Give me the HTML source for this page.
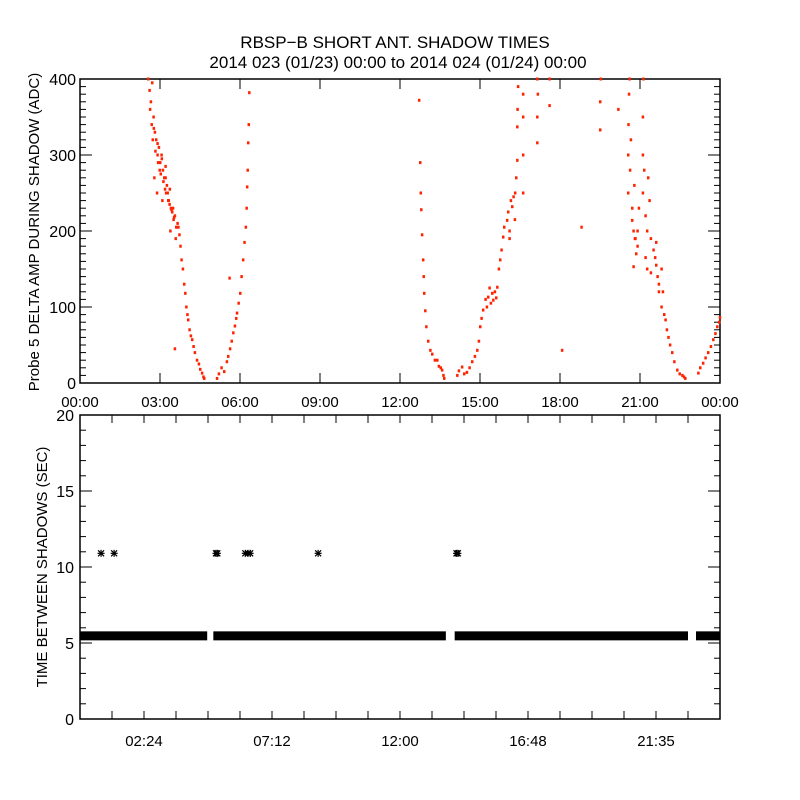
<!DOCTYPE html>
<html><head><meta charset="utf-8"><style>
html,body{margin:0;padding:0;background:#fff;}
svg{display:block;font-family:"Liberation Sans",sans-serif;}
</style></head><body>
<svg id="chart" width="800" height="800" viewBox="0 0 800 800" xmlns="http://www.w3.org/2000/svg">
<rect width="800" height="800" fill="#fff"/>
<text x="395" y="48" font-size="17" text-anchor="middle">RBSP−B SHORT ANT. SHADOW TIMES</text>
<text x="398" y="68" font-size="17" text-anchor="middle">2014 023 (01/23) 00:00 to 2014 024 (01/24) 00:00</text>
<g id="topPanel"></g>
<g id="botPanel"></g>
</svg>
<script>
// Top panel data: hours and amplitude (ADC)
const ampHours = [2.55,2.6,2.65,2.7,2.62,2.68,2.75,2.8,2.85,2.9,2.95,3.0,3.05,3.1,3.15,3.2,3.25,2.78,2.88,2.98,3.08,3.18,3.28,3.35,3.4,3.45,3.5,3.55,3.6,3.65,3.3,3.38,3.48,3.58,3.68,3.72,3.76,3.8,3.85,3.9,3.94,3.98,4.02,4.05,4.1,4.15,4.2,4.25,4.3,4.38,4.45,4.5,4.57,4.62,4.65,
5.13,5.2,5.3,5.4,5.5,5.55,5.62,5.68,5.74,5.8,5.85,5.88,5.94,6.0,6.05,6.11,6.16,6.21,6.24,6.26,6.28,6.3,6.32,6.34,5.6,3.55,
12.71,12.75,12.77,12.79,12.82,12.86,12.88,12.9,12.94,12.98,13.05,13.13,13.2,13.3,13.39,13.45,13.52,13.57,13.62,13.65,
14.14,14.2,14.32,14.4,14.5,14.6,14.7,14.8,14.89,14.95,15.0,15.05,15.11,15.2,15.3,15.35,15.4,15.49,15.55,15.64,15.7,15.75,15.8,15.86,15.9,16.01,16.05,16.1,16.2,16.25,16.31,16.35,16.39,16.39,16.4,16.42,16.61,16.61,16.61,16.61,17.14,17.14,17.14,17.16,17.6,17.6,19.5,19.5,19.52,20.18,18.8,18.07,
20.55,20.55,20.56,20.58,20.6,20.62,20.65,20.7,20.75,20.75,20.78,20.82,20.9,20.9,20.95,21.1,21.1,21.1,21.12,21.15,21.2,21.26,21.26,21.3,21.35,21.4,21.5,21.56,21.6,21.65,21.7,21.8,21.8,21.85,21.9,21.95,22.0,22.06,22.12,22.2,22.28,22.39,22.48,22.58,22.64,22.69,
23.18,23.25,23.36,23.45,23.55,23.65,23.74,23.82,23.89,23.96,23.99,
2.72,2.82,2.92,3.02,3.12,3.22,3.32,3.42,3.52,2.76,2.9,3.06,3.2,3.36,15.25,15.45,15.6,16.1,16.3,16.15,20.8,20.7,20.85,21.2,21.4,21.6,21.7];
const ampValues = [400,385,370,395,360,340,350,330,320,300,310,290,300,280,270,285,260,270,250,280,240,255,250,235,230,225,215,220,205,210,240,200,230,190,205,195,180,162,150,130,118,100,90,83,70,62,57,48,40,30,25,18,13,8,6,
6,12,20,15,28,35,45,55,66,75,85,92,105,118,140,162,185,205,230,258,280,316,340,382,138,45,
372,290,250,228,195,162,140,118,95,74,55,43,38,30,30,22,20,17,10,6,
10,16,21,12,14,20,28,35,43,55,74,85,96,110,113,125,105,109,120,126,150,162,175,192,205,214,225,200,232,245,250,270,293,337,360,390,250,300,350,380,316,350,400,380,365,400,333,370,400,360,205,43,
250,300,340,380,400,280,320,214,153,200,260,190,180,200,230,250,300,350,400,280,220,150,200,270,240,190,175,165,185,140,120,100,150,120,90,83,70,60,50,40,28,17,12,10,8,6,
13,20,26,33,40,48,57,65,74,80,86,
320,305,290,275,265,250,240,228,218,335,315,295,270,255,100,118,112,190,215,240,190,230,170,165,145,155,130];
// Bottom panel data
const bandStart = [0, 5.0, 14.05, 23.1];
const bandEnd = [4.77, 13.72, 22.8, 24];
const bandValue = [5.47, 5.47, 5.47, 5.47];
const outlierHours = [0.79, 1.28, 5.1, 5.15, 6.2, 6.3, 6.38, 8.93, 14.12, 14.17];
const outlierValues = [10.9, 10.9, 10.9, 10.9, 10.9, 10.9, 10.9, 10.9, 10.9, 10.9];
const topYTicks = [0, 100, 200, 300, 400];
const topXLabels = ["00:00","03:00","06:00","09:00","12:00","15:00","18:00","21:00","00:00"];
const botYTicks = [0, 5, 10, 15, 20];
const botXLabels = ["02:24","07:12","12:00","16:48","21:35"];
const botXLabelHours = [2.4, 7.2, 12.0, 16.8, 21.6];

const NS = "http://www.w3.org/2000/svg";
function mk(parent, tag, attrs){const e=document.createElementNS(NS,tag);for(const k in attrs)e.setAttribute(k,attrs[k]);parent.appendChild(e);return e;}
const L=80,R=720;
const xs = h => L + h/24*(R-L);
const T1=79,B1=383; const y1 = v => B1 - v/400*(B1-T1);
const T2=415,B2=719; const y2 = v => B2 - v/20*(B2-T2);
const topG=document.getElementById('topPanel'), botG=document.getElementById('botPanel');

let f=mk(topG,'rect',{x:L,y:T1,width:R-L,height:B1-T1,fill:'none',stroke:'#000','stroke-width':1.5});


for(let v=0;v<=400;v+=10){
  const len = v%100===0?12:6;
  mk(topG,'line',{x1:L,x2:L+len,y1:y1(v),y2:y1(v),stroke:'#000'});
  mk(topG,'line',{x1:R,x2:R-len,y1:y1(v),y2:y1(v),stroke:'#000'});
}
topYTicks.forEach(v=>{
  const t=mk(topG,'text',{x:L-4,y:y1(v)+6,'font-size':16,'text-anchor':'end'});
  t.textContent=v;
  
  
});
topXLabels.forEach((s,i)=>{
  const x=xs(i*3);
  mk(topG,'line',{x1:x,x2:x,y1:B1,y2:B1-10,stroke:'#000'});
  mk(topG,'line',{x1:x,x2:x,y1:T1,y2:T1+10,stroke:'#000'});
  const t=mk(topG,'text',{x:x,y:407,'font-size':15,'text-anchor':'middle'});
  t.textContent=s;
  
  
});
let yt=mk(topG,'text',{x:0,y:0,'font-size':15,'text-anchor':'middle',transform:'translate(39,232) rotate(-90)'});
yt.textContent='Probe 5 DELTA AMP DURING SHADOW (ADC)';


const nPts=Math.min(ampHours.length, ampValues.length);
for(let i=0;i<nPts;i++){
  const p=mk(topG,'rect',{x:xs(ampHours[i])-1,y:y1(ampValues[i])-1.5,width:2.5,height:3,fill:'#ff2200'});
  
  
}

f=mk(botG,'rect',{x:L,y:T2,width:R-L,height:B2-T2,fill:'none',stroke:'#000','stroke-width':1.5});


for(let v=0;v<=20;v++){
  const len=v%5===0?12:6;
  mk(botG,'line',{x1:L,x2:L+len,y1:y2(v),y2:y2(v),stroke:'#000'});
  mk(botG,'line',{x1:R,x2:R-len,y1:y2(v),y2:y2(v),stroke:'#000'});
}
botYTicks.forEach(v=>{
  const t=mk(botG,'text',{x:L-6,y:y2(v)+6,'font-size':16,'text-anchor':'end'});
  t.textContent=v;
  
  
});
for(let k=1;k<20;k++){
  const x=xs(k*1.2);
  mk(botG,'line',{x1:x,x2:x,y1:B2,y2:B2-8,stroke:'#000'});
  mk(botG,'line',{x1:x,x2:x,y1:T2,y2:T2+8,stroke:'#000'});
}
botXLabels.forEach((s,i)=>{
  const t=mk(botG,'text',{x:xs(botXLabelHours[i]),y:746,'font-size':15,'text-anchor':'middle'});
  t.textContent=s;
  
  
});
yt=mk(botG,'text',{x:0,y:0,'font-size':15,'text-anchor':'middle',transform:'translate(47,567) rotate(-90)'});
yt.textContent='TIME BETWEEN SHADOWS (SEC)';


bandStart.forEach((s,i)=>{
  const yc=y2(bandValue[i]);
  const b=mk(botG,'rect',{x:xs(s),y:yc-4.5,width:xs(bandEnd[i])-xs(s),height:9,fill:'#000'});
  
  
});
outlierHours.forEach((h,i)=>{
  const cx=xs(h), cy=y2(outlierValues[i]);
  const g=mk(botG,'g',{stroke:'#000','stroke-width':1.2});
  
  
  mk(g,'line',{x1:cx-3.5,x2:cx+3.5,y1:cy,y2:cy});
  mk(g,'line',{x1:cx,x2:cx,y1:cy-3.5,y2:cy+3.5});
  mk(g,'line',{x1:cx-3,x2:cx+3,y1:cy-3,y2:cy+3});
  mk(g,'line',{x1:cx-3,x2:cx+3,y1:cy+3,y2:cy-3});
});
</script>
</body></html>
